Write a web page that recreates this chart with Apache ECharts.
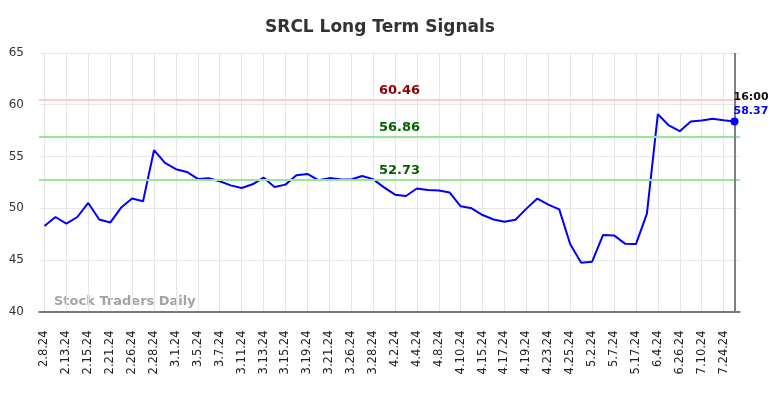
<!DOCTYPE html>
<html>
<head>
<meta charset="utf-8">
<script src="https://cdn.jsdelivr.net/npm/echarts@6/dist/echarts.min.js"></script>
<style>
  html, body { margin: 0; padding: 0; background: #fff; }
  #chart { width: 784px; height: 398px; }
</style>
</head>
<body>
<div id="chart"></div>
<script>
let dates = [
  '2.8.24', '2.12.24', '2.13.24', '2.14.24', '2.15.24', '2.16.24', '2.21.24', '2.22.24',
  '2.26.24', '2.27.24', '2.28.24', '2.29.24', '3.1.24', '3.4.24', '3.5.24', '3.6.24',
  '3.7.24', '3.8.24', '3.11.24', '3.12.24', '3.13.24', '3.14.24', '3.15.24', '3.18.24',
  '3.19.24', '3.20.24', '3.21.24', '3.22.24', '3.26.24', '3.27.24', '3.28.24', '4.1.24',
  '4.2.24', '4.3.24', '4.4.24', '4.5.24', '4.8.24', '4.9.24', '4.10.24', '4.11.24',
  '4.15.24', '4.16.24', '4.17.24', '4.18.24', '4.19.24', '4.22.24', '4.23.24', '4.24.24',
  '4.25.24', '4.26.24', '5.2.24', '5.3.24', '5.7.24', '5.8.24', '5.17.24', '5.20.24',
  '6.4.24', '6.5.24', '6.26.24', '6.27.24', '7.10.24', '7.11.24', '7.24.24', '7.25.24'
]
let prices = [
  48.27, 49.14, 48.5, 49.14, 50.5, 48.9, 48.6, 50.05,
  50.92, 50.66, 55.6, 54.37, 53.76, 53.5, 52.82, 52.88,
  52.6, 52.2, 51.95, 52.3, 52.95, 52.04, 52.27, 53.18,
  53.3, 52.7, 52.9, 52.8, 52.76, 53.1, 52.8, 52.0,
  51.3, 51.17, 51.9, 51.75, 51.7, 51.5, 50.17, 49.98,
  49.33, 48.9, 48.69, 48.88, 49.95, 50.92, 50.34, 49.88,
  46.5, 44.72, 44.82, 47.4, 47.36, 46.56, 46.52, 49.47,
  59.09, 57.99, 57.44, 58.38, 58.47, 58.64, 58.5, 58.37
]
let resistance = 60.46
let supports = [56.86, 52.73]
let lastTime = '16:00'
let yTicks = [40, 65, 5] // min, max, step

let chart = echarts.init(document.getElementById('chart'))
let lastIdx = prices.length - 1
let fontFamily = 'DejaVu Sans'

let levelLine = function (value, lineColor, textColor) {
  return {
    yAxis: value,
    lineStyle: { color: lineColor, width: 2, type: 'solid' },
    label: {
      show: true,
      position: 'insideMiddleTop',
      formatter: value.toFixed(2),
      color: textColor,
      fontWeight: 'bold',
      fontSize: 13,
      fontFamily: fontFamily,
      offset: [10, 0],
      distance: 3,
    },
  }
}

let option = {
  animation: false,
  title: {
    text: 'SRCL Long Term Signals',
    left: 375,
    top: 14,
    textAlign: 'center',
    textStyle: { fontSize: 17, fontWeight: 'bold', color: '#333', fontFamily: fontFamily },
  },
  grid: { left: 39, right: 44, top: 53, bottom: 86.5 },
  graphic: [
    {
      type: 'text',
      left: 54,
      top: 295,
      style: {
        text: 'Stock Traders Daily',
        fill: 'rgba(140,140,140,0.8)',
        font: 'bold 13px "DejaVu Sans"',
      },
    },
  ],
  xAxis: {
    type: 'category',
    data: dates,
    boundaryGap: true,
    axisLine: { show: true, lineStyle: { color: '#555', width: 1.5 } },
    axisTick: { show: false },
    axisLabel: {
      interval: 1,
      rotate: 90,
      margin: 19,
      fontSize: 11.5,
      color: '#222',
      fontFamily: fontFamily,
    },
    splitLine: {
      show: true,
      interval: 1,
      alignWithLabel: true,
      lineStyle: { color: '#e6e6e6', width: 1 },
    },
  },
  yAxis: {
    type: 'value',
    min: yTicks[0],
    max: yTicks[1],
    interval: yTicks[2],
    axisLine: { show: false },
    axisTick: { show: false },
    axisLabel: { fontSize: 12, color: '#333', margin: 15, fontFamily: fontFamily },
    splitLine: { lineStyle: { color: '#e6e6e6', width: 1 } },
  },
  series: [
    {
      type: 'line',
      data: prices,
      showSymbol: false,
      lineStyle: { color: '#0000ff', width: 2 },
      itemStyle: { color: '#0000ff' },
      markLine: {
        silent: true,
        symbol: 'none',
        data: [
          levelLine(resistance, '#ffcccc', '#8b0000'),
          levelLine(supports[0], '#99e699', '#006400'),
          levelLine(supports[1], '#99e699', '#006400'),
          {
            xAxis: lastIdx,
            lineStyle: { color: '#808080', width: 2, type: 'solid' },
            label: { show: false },
          },
        ],
      },
      markPoint: {
        silent: true,
        symbol: 'circle',
        symbolSize: 8,
        itemStyle: { color: '#0000ff' },
        data: [
          {
            coord: [lastIdx, prices[lastIdx]],
            label: {
              show: true,
              position: [3, -27],
              align: 'left',
              verticalAlign: 'top',
              formatter: '{t|' + lastTime + '}\n{v|' + prices[lastIdx].toFixed(2) + '}',
              rich: {
                t: { color: '#111', fontWeight: 'bold', fontSize: 11, lineHeight: 14, fontFamily: fontFamily },
                v: { color: '#0000ff', fontWeight: 'bold', fontSize: 11, lineHeight: 14, fontFamily: fontFamily },
              },
            },
          },
        ],
      },
    },
  ],
}

chart.setOption(option)
</script>
</body>
</html>
